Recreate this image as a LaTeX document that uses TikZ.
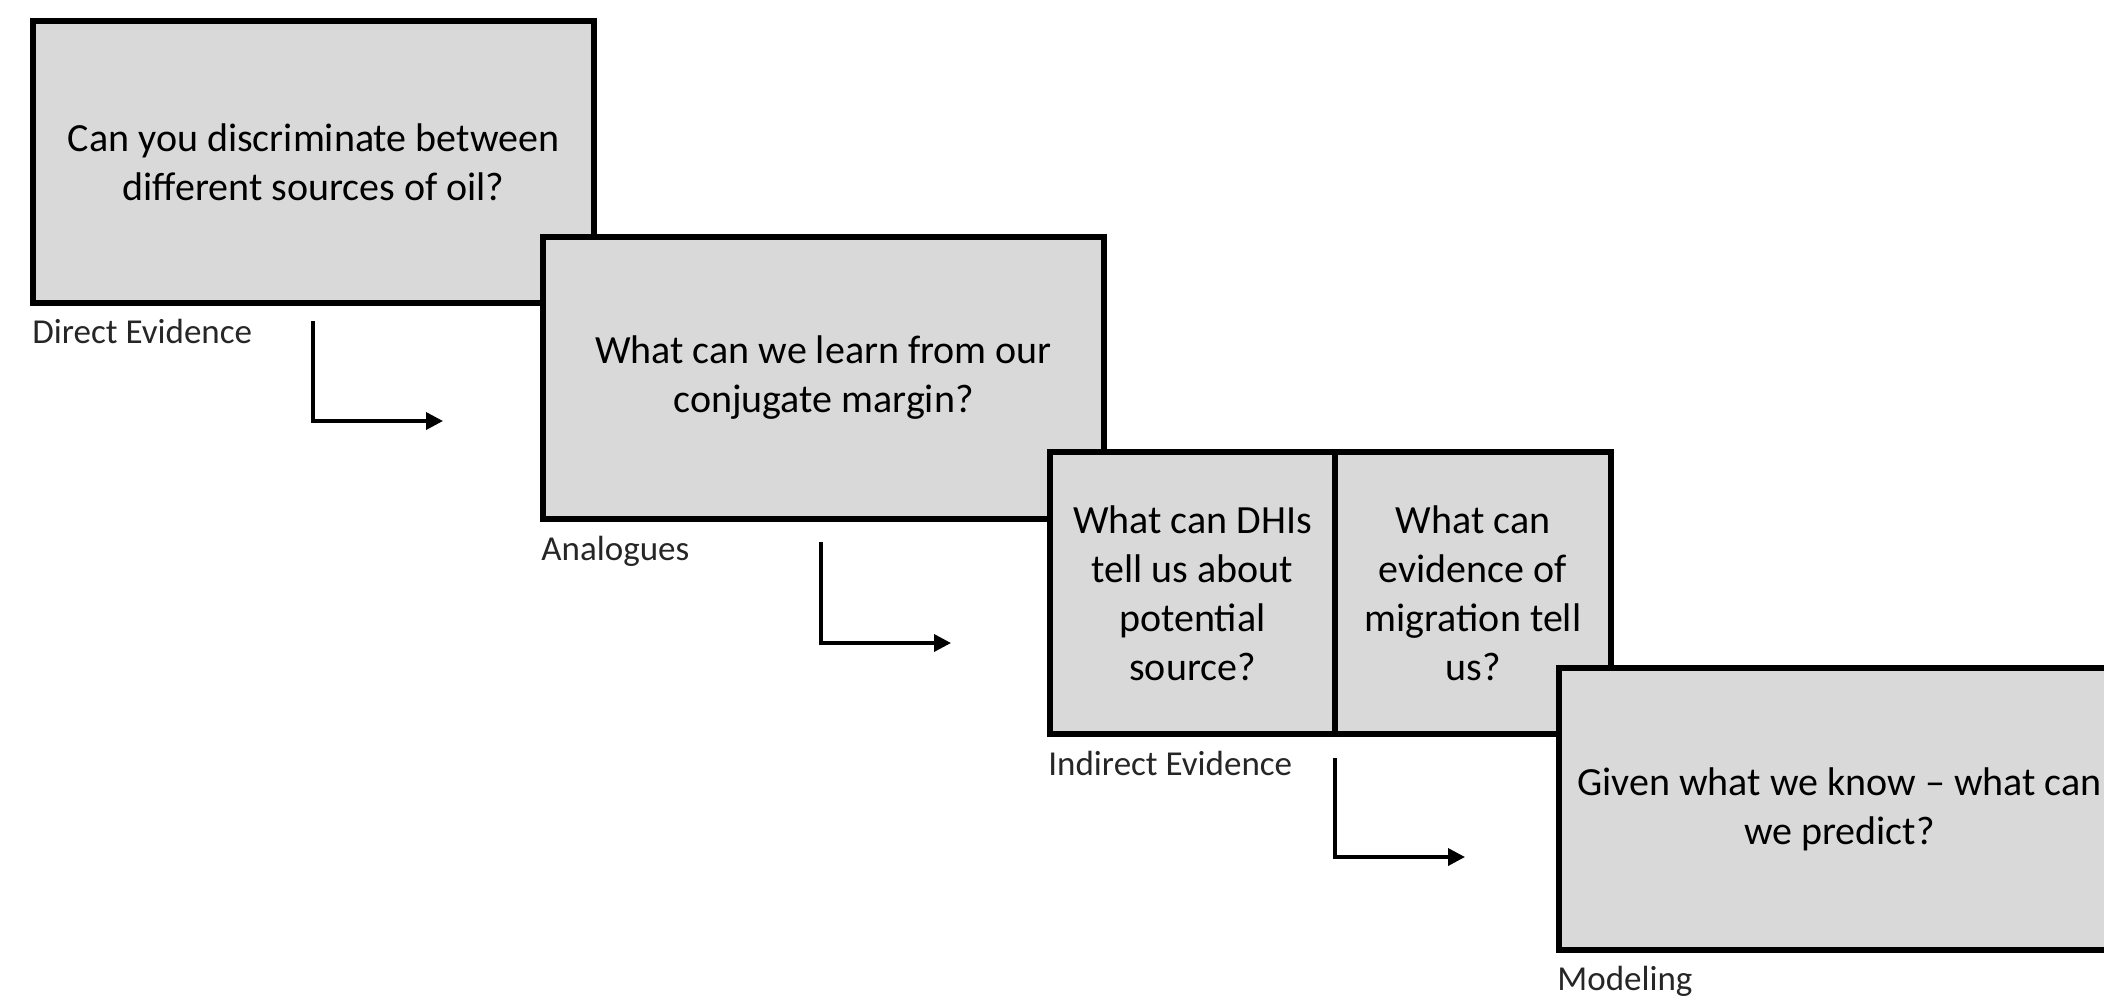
\documentclass[tikz,border=0pt]{standalone}
\usepackage{fontspec}
\setmainfont{Carlito}
\usetikzlibrary{arrows.meta}
\begin{document}
\begin{tikzpicture}[x=0.5pt,y=-0.5pt,
  qbox/.style={draw=black, line width=2.6pt, fill=boxgray, inner sep=0pt, outer sep=0pt,
    anchor=north west, align=center, font=\fontsize{20}{24.5}\selectfont},
  lbl/.style={anchor=base west, inner sep=0pt, text=black!85, font=\fontsize{17.5}{20}\selectfont},
  arr/.style={draw=black, line width=1.8pt, -{Triangle[length=8.5pt,width=8.5pt]}}]
\definecolor{boxgray}{HTML}{D9D9D9}
\useasboundingbox (0,0) rectangle (2104,996);
\clip (0,0) rectangle (2104,996);
% boxes
\node[qbox, minimum width=280.5pt, minimum height=141pt] (b1) at (33,21)
  {Can you discriminate between\\different sources of oil?};
\node[qbox, minimum width=280.5pt, minimum height=141pt] (b2) at (543,237)
  {What can we learn from our\\conjugate margin?};
\node[qbox, minimum width=142.5pt, minimum height=141pt] (b3a) at (1050,452)
  {What can DHIs\\tell us about\\potential\\source?};
\node[qbox, minimum width=138pt, minimum height=141pt] (b3b) at (1335,452)
  {What can\\evidence of\\migration tell\\us?};
\node[qbox, minimum width=280.5pt, minimum height=141pt] (b4) at (1559,668)
  {Given what we know -- what can\\we predict?};
% labels
\node[lbl] (l1) at (32,343) {Direct Evidence};
\node[lbl] (l2) at (541,560) {Analogues};
\node[lbl] (l3) at (1048,775) {Indirect Evidence};
\node[lbl] (l4) at (1557,990) {Modeling};
% arrows
\coordinate (a1s) at (313,321);
\coordinate (a1e) at (443,421);
\coordinate (a2s) at (821,542);
\coordinate (a2e) at (951,643);
\coordinate (a3s) at (1335,758);
\coordinate (a3e) at (1465,857);
\draw[arr] (a1s) |- (a1e);
\draw[arr] (a2s) |- (a2e);
\draw[arr] (a3s) |- (a3e);
\end{tikzpicture}
\end{document}
